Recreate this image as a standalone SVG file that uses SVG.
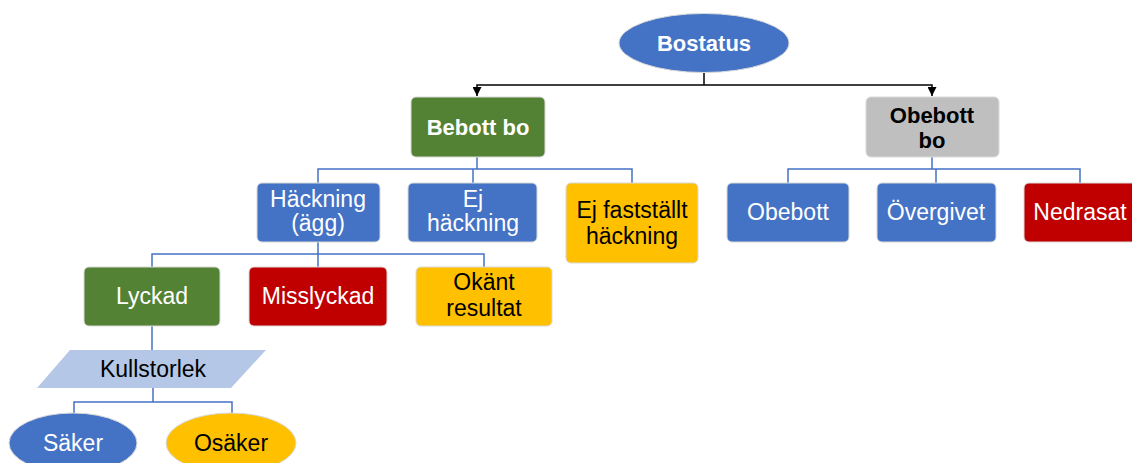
<svg xmlns="http://www.w3.org/2000/svg" width="1132" height="463" viewBox="0 0 1132 463">
<style>
text{font-family:"Liberation Sans",Arial,sans-serif;font-size:23px;text-anchor:middle}
.w{fill:#fff}.k{fill:#000}.b{font-weight:bold;font-size:22px}
.box{stroke:#d9d9d9;stroke-width:1}
.blue{fill:#4472c4}.green{fill:#548235}.red{fill:#c00000}.yellow{fill:#ffc000}.gray{fill:#bfbfbf}.lb{fill:#b4c7e7}
.c{fill:none;stroke:#4472c4;stroke-width:1.5}
.a{fill:none;stroke:#000;stroke-width:1.5}
</style>
<defs>
<marker id="arr" viewBox="0 0 10 10" refX="10" refY="5" markerWidth="9" markerHeight="9" markerUnits="userSpaceOnUse" orient="auto">
<path d="M0,0 L10,5 L0,10 z" fill="#000"/>
</marker>
</defs>
<g id="connectors">
<path class="a" d="M704,73 V85"/>
<path class="a" d="M704,85 H477 V96" marker-end="url(#arr)"/>
<path class="a" d="M704,85 H932 V96" marker-end="url(#arr)"/>
<path class="c" d="M477,157 V169 M318,183 V169 H632 V183 M473,169 V183"/>
<path class="c" d="M932,157 V169 M788,183 V169 H1080 V183 M936,169 V183"/>
<path class="c" d="M318,242 V254 M152,267 V254 H484 V267 M318,254 V267"/>
<path class="c" d="M152,326 V350"/>
<path class="c" d="M153,388 V402 M74,413 V402 H232 V413"/>
</g>
<g id="bostatus"><ellipse class="blue box" cx="704" cy="43" rx="85" ry="29.5"/><text class="w b" x="704" y="51">Bostatus</text></g>
<g id="bebott"><rect class="green box" x="411" y="97" width="134" height="60" rx="5"/><text class="w b" x="478" y="135">Bebott bo</text></g>
<g id="obebott-bo"><rect class="gray box" x="866" y="97" width="133" height="60" rx="5"/><text class="k b" x="932" y="123">Obebott</text><text class="k b" x="932" y="148">bo</text></g>
<g id="hackning"><rect class="blue box" x="257" y="183" width="123" height="59" rx="5"/><text class="w" x="318" y="207">Häckning</text><text class="w" x="318" y="231">(ägg)</text></g>
<g id="ej-hackning"><rect class="blue box" x="408" y="183" width="129" height="59" rx="5"/><text class="w" x="473" y="207">Ej</text><text class="w" x="473" y="231">häckning</text></g>
<g id="ej-faststallt"><rect class="yellow box" x="566" y="183" width="132" height="80" rx="5"/><text class="k" x="632" y="218">Ej fastställt</text><text class="k" x="632" y="244">häckning</text></g>
<g id="obebott"><rect class="blue box" x="727" y="183" width="122" height="59" rx="5"/><text class="w" x="788" y="220">Obebott</text></g>
<g id="overgivet"><rect class="blue box" x="877" y="183" width="119" height="59" rx="5"/><text class="w" x="936" y="220">Övergivet</text></g>
<g id="nedrasat"><rect class="red box" x="1024" y="183" width="114" height="59" rx="5"/><text class="w" x="1080" y="220">Nedrasat</text></g>
<g id="lyckad"><rect class="green box" x="84" y="267" width="136" height="59" rx="5"/><text class="w" x="152" y="304">Lyckad</text></g>
<g id="misslyckad"><rect class="red box" x="249" y="267" width="138" height="59" rx="5"/><text class="w" x="318" y="304">Misslyckad</text></g>
<g id="okant"><rect class="yellow box" x="416" y="267" width="136" height="59" rx="5"/><text class="k" x="484" y="290">Okänt</text><text class="k" x="484" y="316">resultat</text></g>
<g id="kullstorlek"><polygon class="lb" points="70,350 266,350 231,388 37,388"/><text class="k" x="153" y="377">Kullstorlek</text></g>
<g id="saker"><ellipse class="blue box" cx="73" cy="443" rx="64" ry="30"/><text class="w" x="73" y="451">Säker</text></g>
<g id="osaker"><ellipse class="yellow box" cx="231" cy="443" rx="65" ry="30"/><text class="k" x="231" y="451">Osäker</text></g>
</svg>
